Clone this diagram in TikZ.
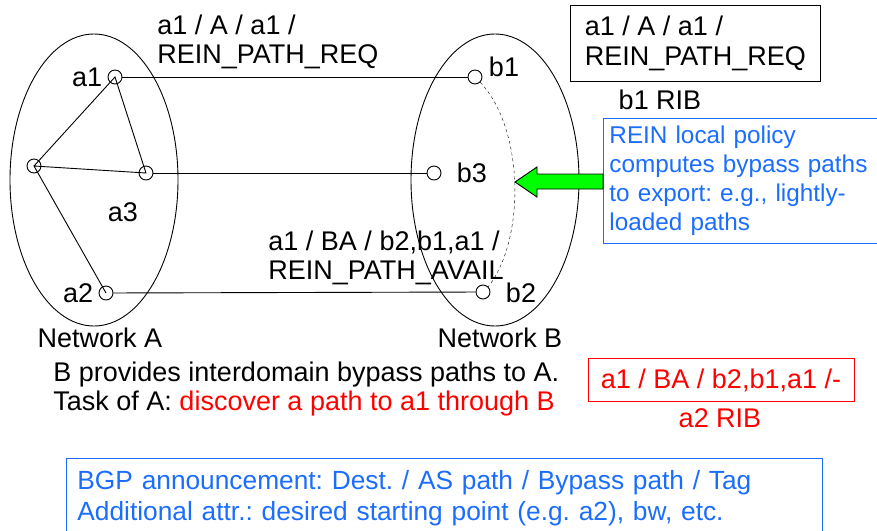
\documentclass[tikz,border=0pt]{standalone}
\usepackage{fontspec}
\setmainfont{Liberation Sans}
\usetikzlibrary{positioning,shapes.geometric}
\definecolor{reinblue}{HTML}{1A6DFF}
\definecolor{reinred}{HTML}{FF0000}
\definecolor{reingreen}{HTML}{00FF00}
\frenchspacing

\begin{document}
\begin{tikzpicture}[x=1pt,y=-1pt,line width=0.9pt,
  router/.style={circle,draw,minimum size=14pt,inner sep=0pt,fill=white},
  netoval/.style={ellipse,draw,minimum width=168pt,minimum height=292pt,inner sep=0pt},
  txt/.style={inner sep=2pt,font=\fontsize{27}{29.5}\selectfont,align=left},
  rib/.style={txt,draw,inner xsep=11pt,inner ysep=5pt}]
\useasboundingbox (0,0) rectangle (877,530);
% the two networks
\node[netoval] (netA) at (94,180) {};
\node[netoval] (netB) at (495,180) {};
\node[txt] (netAlabel) at (100,338) {Network A};
\node[txt] (netBlabel) at (500,338) {Network B};
% routers
\node[router] (a1) at (115,77) {};
\node[router] (ax) at (34,166) {};
\node[router] (a3) at (146,173) {};
\node[router] (a2) at (106,293) {};
\node[router] (b1) at (475,77) {};
\node[router] (b3) at (434,173) {};
\node[router] (b2) at (483,292) {};
\node[txt,left=3pt of a1] (a1label) {a1};
\node[txt] (a3label) at (123,212) {a3};
\node[txt,left=3pt of a2] (a2label) {a2};
\node[txt] (b1label) at (504,67) {b1};
\node[txt,right=13pt of b3] (b3label) {b3};
\node[txt] (b2label) at (521,293) {b2};
% links
\draw (ax.center) -- (a1.center) -- (a3.center) -- (ax.center) -- (a2.center);
\draw (a1) -- (b1);
\draw (a3) -- (b3);
\draw (a2) -- (b2);
\draw[dashed,thin] (b1.south east) .. controls (525,130) and (525,240) .. (b2.north east);
% messages
\node[txt,anchor=west] (reqmsg) at (155,42) {a1 / A / a1 /\\REIN\_PATH\_REQ};
\node[txt,anchor=west] (availmsg) at (266,258) {a1 / BA / b2,b1,a1 /\\REIN\_PATH\_AVAIL};
% RIBs
\node[rib,anchor=north west,minimum width=250pt,minimum height=76pt] (b1rib) at (570,5) {a1 / A / a1 /\\REIN\_PATH\_REQ};
\node[txt] (b1ribname) at (660,100) {b1 RIB};
\node[rib,draw=reinred,text=reinred,inner ysep=3pt,minimum width=266pt,minimum height=43pt] (a2rib) at (721,380) {a1 / BA / b2,b1,a1 /-};
\node[txt,text=reinred] (a2ribname) at (720,418) {a2 RIB};
% policy
\node[rib,draw=reinblue,text=reinblue,anchor=north west,text width=262pt,inner xsep=6pt,minimum height=125pt,inner ysep=3pt,font=\fontsize{24.3}{29}\selectfont] (policy) at (603,118) {REIN local policy\\computes bypass paths\\to export: e.g., lightly-\\loaded paths};
\draw[fill=reingreen] (515,182) -- (537,167) -- (537,174) -- (policy.west |- 0,174) -- (policy.west |- 0,189) -- (537,189) -- (537,197) -- cycle;
% task and announcement format
\node[txt,anchor=west] (task) at (51,389) {B provides interdomain bypass paths to A.\\Task of A: \textcolor{reinred}{discover a path to a1 through B}};
\node[rib,draw=reinblue,text=reinblue,anchor=north west,text width=734pt,minimum height=80pt,inner ysep=6pt,font=\fontsize{26.3}{31}\selectfont] (bgp) at (66,458) {BGP announcement: Dest. / AS path / Bypass path / Tag\\Additional attr.: desired starting point (e.g. a2), bw, etc.};
\end{tikzpicture}
\end{document}
